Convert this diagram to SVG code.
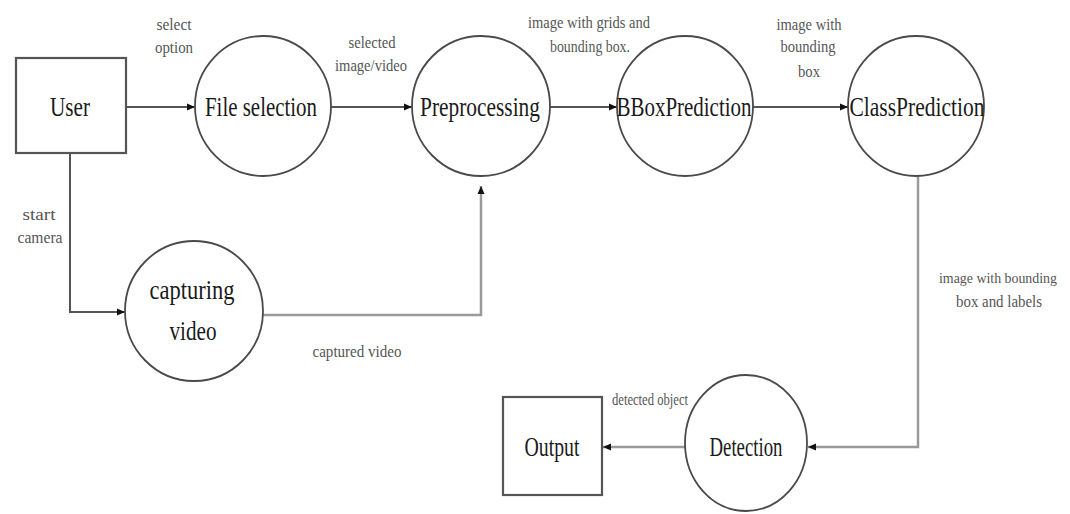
<svg xmlns="http://www.w3.org/2000/svg" width="1070" height="514" viewBox="0 0 1070 514">
<defs>
<marker id="arr" markerWidth="8" markerHeight="8" refX="8" refY="4" orient="auto" markerUnits="userSpaceOnUse">
<path d="M0,0.5 L8,4 L0,7.5 z" fill="#111"/>
</marker>
<style>
.node{fill:#fff;stroke:#4a4a4a;stroke-width:1.8}
.box{fill:#fff;stroke:#555;stroke-width:2.2}
.lbl{font-family:"Liberation Serif",serif;font-size:28px;fill:#1a1a1a;text-anchor:middle}
.sm{font-family:"Liberation Serif",serif;font-size:16px;fill:#555;text-anchor:middle}
.c{fill:none;stroke:#555;stroke-width:2}
.cg{fill:none;stroke:#9a9a9a;stroke-width:2.5}
</style>
</defs>
<rect width="1070" height="514" fill="#fff"/>
<g id="connectors">
<path class="c" d="M126 107 H195" marker-end="url(#arr)"/>
<path class="c" d="M331 107 H412" marker-end="url(#arr)"/>
<path class="c" d="M550 107 H617" marker-end="url(#arr)"/>
<path class="c" d="M753 107 H848" marker-end="url(#arr)"/>
<path class="c" d="M70 153 V312 H125" marker-end="url(#arr)"/>
<path class="cg" d="M263 315 H481 V186" marker-end="url(#arr)"/>
<path class="cg" d="M918 176 V447 H808" marker-end="url(#arr)"/>
<path class="cg" d="M685 447 H603" marker-end="url(#arr)"/>
<text class="sm" x="174" y="30" textLength="35" lengthAdjust="spacingAndGlyphs">select</text>
<text class="sm" x="174" y="53" textLength="38" lengthAdjust="spacingAndGlyphs">option</text>
<text class="sm" x="372" y="48" textLength="47" lengthAdjust="spacingAndGlyphs">selected</text>
<text class="sm" x="371" y="71" textLength="72" lengthAdjust="spacingAndGlyphs">image/video</text>
<text class="sm" x="589" y="28" textLength="122" lengthAdjust="spacingAndGlyphs">image with grids and</text>
<text class="sm" x="590" y="52" textLength="80" lengthAdjust="spacingAndGlyphs">bounding box.</text>
<text class="sm" x="809" y="30" textLength="65" lengthAdjust="spacingAndGlyphs">image with</text>
<text class="sm" x="808" y="52" textLength="55" lengthAdjust="spacingAndGlyphs">bounding</text>
<text class="sm" x="809" y="77" textLength="22" lengthAdjust="spacingAndGlyphs">box</text>
<text class="sm" x="357" y="357" textLength="89" lengthAdjust="spacingAndGlyphs">captured video</text>
<text class="sm" x="39" y="220" textLength="33" lengthAdjust="spacingAndGlyphs">start</text>
<text class="sm" x="40" y="243" textLength="45" lengthAdjust="spacingAndGlyphs">camera</text>
<text class="sm" x="998" y="283" style="font-size:15px" textLength="118" lengthAdjust="spacingAndGlyphs">image with bounding</text>
<text class="sm" x="999" y="307" textLength="86" lengthAdjust="spacingAndGlyphs">box and labels</text>
<text class="sm" x="650" y="405" textLength="76" lengthAdjust="spacingAndGlyphs">detected object</text>
</g>
<g id="user">
<rect class="box" x="16" y="58" width="110" height="95"/>
<text class="lbl" x="70" y="116" textLength="40" lengthAdjust="spacingAndGlyphs">User</text>
</g>
<g id="file-selection">
<ellipse class="node" cx="263" cy="106" rx="68" ry="70"/>
<text class="lbl" x="261" y="116" textLength="112" lengthAdjust="spacingAndGlyphs">File selection</text>
</g>
<g id="preprocessing">
<ellipse class="node" cx="481" cy="106" rx="69" ry="70"/>
<text class="lbl" x="480" y="116" textLength="120" lengthAdjust="spacingAndGlyphs">Preprocessing</text>
</g>
<g id="bbox-prediction">
<ellipse class="node" cx="685" cy="106" rx="68" ry="70"/>
<text class="lbl" x="684" y="116" textLength="135" lengthAdjust="spacingAndGlyphs">BBoxPrediction</text>
</g>
<g id="class-prediction">
<ellipse class="node" cx="916" cy="106" rx="68" ry="70"/>
<text class="lbl" x="917" y="116" textLength="135" lengthAdjust="spacingAndGlyphs">ClassPrediction</text>
</g>
<g id="capturing-video">
<ellipse class="node" cx="194" cy="311" rx="69" ry="70"/>
<text class="lbl" x="192" y="299" textLength="85" lengthAdjust="spacingAndGlyphs">capturing</text>
<text class="lbl" x="193" y="340" textLength="47" lengthAdjust="spacingAndGlyphs">video</text>
</g>
<g id="detection">
<ellipse class="node" cx="746" cy="443" rx="61" ry="68"/>
<text class="lbl" x="746" y="456" textLength="73" lengthAdjust="spacingAndGlyphs">Detection</text>
</g>
<g id="output">
<rect class="box" x="503" y="397" width="99" height="98"/>
<text class="lbl" x="552" y="456" textLength="55" lengthAdjust="spacingAndGlyphs">Output</text>
</g>
</svg>
